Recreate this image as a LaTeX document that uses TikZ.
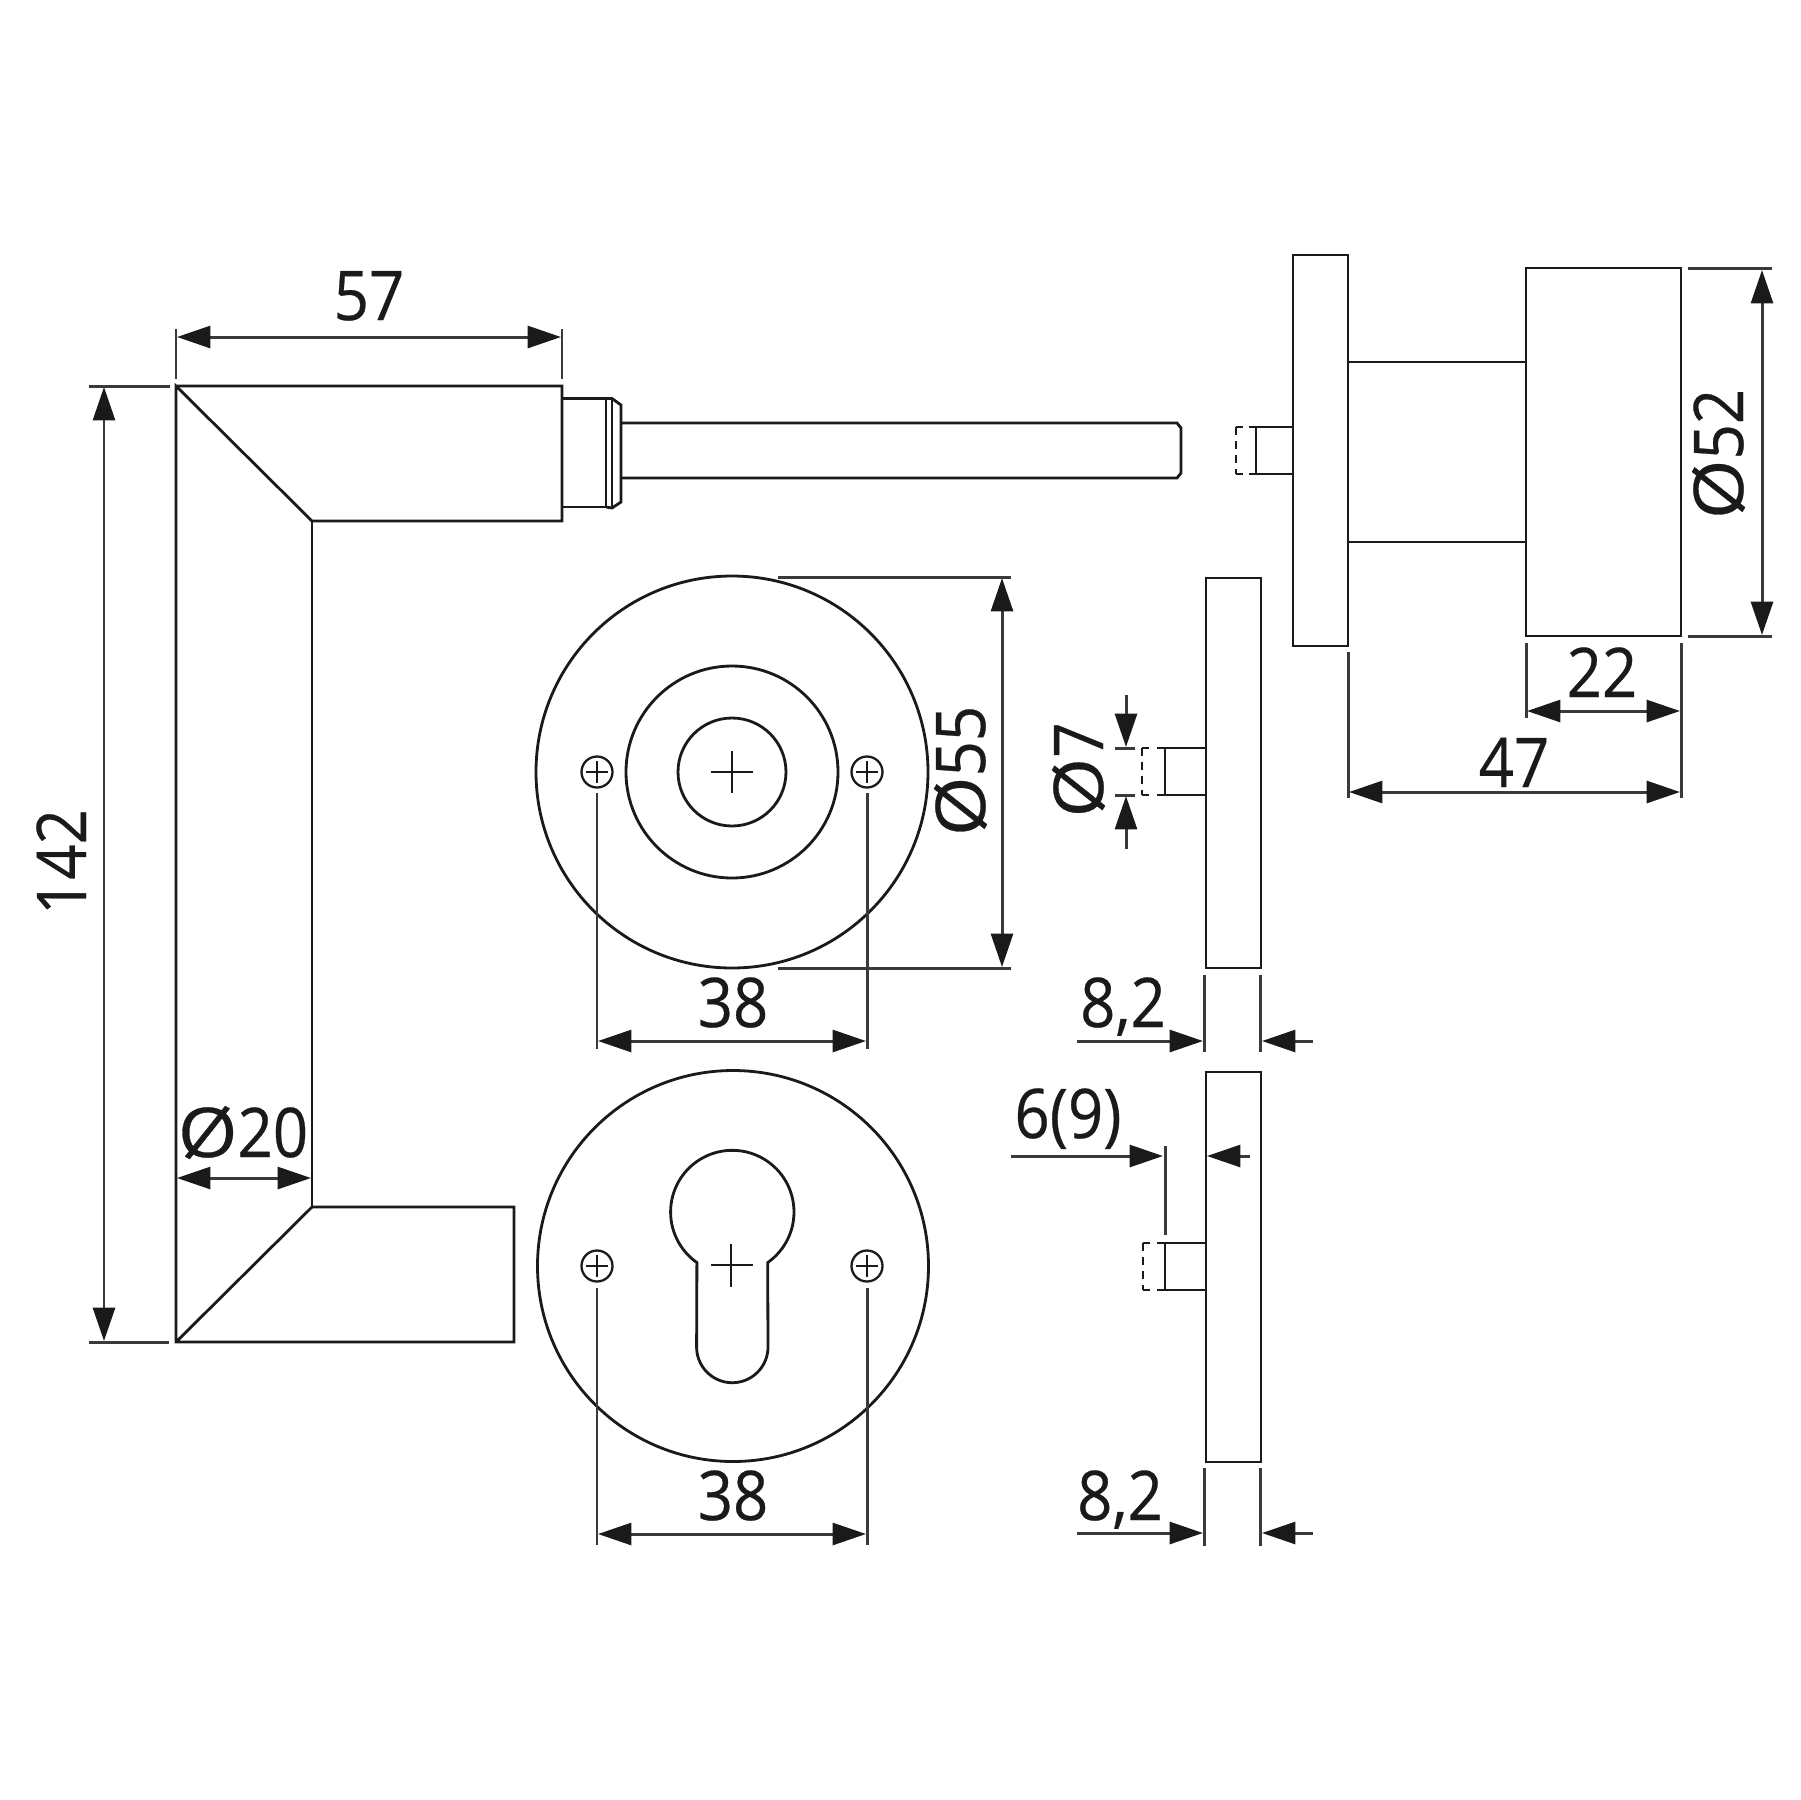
\documentclass[tikz,border=0pt]{standalone}
\usepackage{fontspec}
\setmainfont[FakeStretch=0.9,FakeBold=0.4]{Open Sans}
\newfontfamily\diafont[FakeStretch=1.12,FakeBold=0.4]{Open Sans}
\newcommand{\diam}{{\diafont Ø}}
\usetikzlibrary{arrows.meta}
\definecolor{ink}{HTML}{1A1A1A}
\definecolor{dimc}{HTML}{3A3A3A}
\tikzset{
  obj/.style={draw=ink,line width=1.6pt,line join=miter},
  thin obj/.style={draw=ink,line width=1.3pt},
  dimext/.style={draw=dimc,line width=1.7pt},
  dimline/.style={draw=dimc,line width=1.7pt},
  darrow/.style={dimline,{Triangle[length=19pt,width=12.5pt,fill=ink,color=ink]}-{Triangle[length=19pt,width=12.5pt,fill=ink,color=ink]}},
  rarrow/.style={dimline,-{Triangle[length=19pt,width=12.5pt,fill=ink,color=ink]}},
  lbl/.style={font=\fontsize{39}{39}\selectfont,text=ink,inner sep=0pt,anchor=base},
  vlbl/.style={lbl,rotate=90},
  dashd/.style={draw=ink,line width=1.6pt,dash pattern=on 4.5pt off 3.5pt},
}
\begin{document}
\begin{tikzpicture}[x=0.02cm,y=-0.02cm]
\useasboundingbox (0,0) rectangle (1800,1800);
\fill[white] (0,0) rectangle (1800,1800);
% handle
\path[obj] (176,386) -- (562,386) -- (562,521) -- (312,521) -- (176,386) -- (176,1342) -- (514,1342) -- (514,1207) -- (312,1207) -- (176,1342);
\path[obj] (312,521) -- (312,1207);
% neck and spindle
\path[obj] (562,398.5) -- (606,398.5) -- (606,507) -- (562,507);
\path[obj] (606,398.5) -- (612,398.5) -- (621,405) -- (621,502) -- (612,508) -- (606,507);
\path[obj] (612,398.5) -- (612,508);
\path[obj] (621,423) -- (1177,423) -- (1181,428) -- (1181,473) -- (1177,478) -- (621,478);
% knob side view
\path[obj] (1293,255) rectangle (1348,646);
\path[obj] (1348,362) -- (1526,362);
\path[obj] (1348,542) -- (1526,542);
\path[obj] (1526,268) rectangle (1681,636);
\path[obj] (1293,427) -- (1249,427);
\path[obj] (1293,474) -- (1249,474);
\path[obj] (1256,427) -- (1256,474);
\path[obj] (1243,427) -- (1236,427);
\path[obj] (1243,474) -- (1236,474);
\path[dashd] (1236,427) -- (1236,474);
% rose with round inner
\path[obj] (732,772) circle[radius=196];
\path[obj] (732,772) circle[radius=106];
\path[obj] (732,772) circle[radius=54];
\path[thin obj] (711,772) -- (753,772) (732,751) -- (732,793);
\foreach \sx/\sy in {597/772,867/772,597/1266,867/1266}{
  \path[thin obj] (\sx,\sy) circle[radius=15.5];
  \path[thin obj] (\sx-11,\sy) -- (\sx+11,\sy) (\sx,\sy-11) -- (\sx,\sy+11);
}
% rose with cylinder
\path[obj] (733,1266) circle[radius=195.5];
\path[obj] plot[domain=125:415,samples=80,smooth] ({732.3+61.7*cos(\x)},{1212+61.7*sin(\x)})
  -- (768,1347) -- plot[domain=0:180,samples=40,smooth] ({732.3+35.7*cos(\x)},{1347+35.7*sin(\x)}) -- cycle;
\path[thin obj] (711,1265) -- (753,1265) (731,1243.5) -- (731,1286.5);
% side plate upper
\path[obj] (1206,578) rectangle (1261,968);
\path[obj] (1206,748) -- (1157,748);
\path[obj] (1206,795) -- (1157,795);
\path[obj] (1165,748) -- (1165,795);
\path[obj] (1149,748) -- (1142,748);
\path[obj] (1149,795) -- (1142,795);
\path[dashd] (1142,748) -- (1142,795);
% side plate lower
\path[obj] (1206,1072) rectangle (1261,1462);
\path[obj] (1206,1243) -- (1157,1243);
\path[obj] (1206,1290) -- (1157,1290);
\path[obj] (1165,1243) -- (1165,1290);
\path[obj] (1150,1243) -- (1143,1243);
\path[obj] (1150,1290) -- (1143,1290);
\path[dashd] (1143,1243) -- (1143,1290);
% extension lines
\path[dimext] (176,329) -- (176,379) (562,329) -- (562,379);
\path[dimext] (89,386) -- (170,386) (89,1342) -- (169,1342);
\path[dimext] (778,577) -- (1011,577) (778,968) -- (1011,968);
\path[dimext] (597,793) -- (597,1049) (867,793) -- (867,1049);
\path[dimext] (597,1288) -- (597,1545) (867,1288) -- (867,1545);
\path[dimext] (1688,268) -- (1772,268) (1688,636) -- (1772,636);
\path[dimext] (1526,643) -- (1526,718) (1681,643) -- (1681,798) (1348,652) -- (1348,798);
\path[dimext] (1115,748) -- (1135,748) (1115,795) -- (1135,795);
\path[dimext] (1204,975) -- (1204,1052) (1260,975) -- (1260,1052);
\path[dimext] (1204,1468) -- (1204,1546) (1260,1468) -- (1260,1546);
\path[dimext] (1165,1146) -- (1165,1235);
% dimension arrows
\coordinate (a57l) at (177,337); \coordinate (a57r) at (561,337);
\draw[darrow] (a57l) -- (a57r);
\coordinate (a142t) at (104,387); \coordinate (a142b) at (104,1341);
\draw[darrow] (a142t) -- (a142b);
\coordinate (a20l) at (177,1178); \coordinate (a20r) at (311,1178);
\draw[darrow] (a20l) -- (a20r);
\coordinate (a55t) at (1002,578); \coordinate (a55b) at (1002,967);
\draw[darrow] (a55t) -- (a55b);
\coordinate (a38l) at (598,1041); \coordinate (a38r) at (866,1041);
\draw[darrow] (a38l) -- (a38r);
\coordinate (b38l) at (598,1534); \coordinate (b38r) at (866,1534);
\draw[darrow] (b38l) -- (b38r);
\coordinate (a52t) at (1762,270); \coordinate (a52b) at (1762,635);
\draw[darrow] (a52t) -- (a52b);
\coordinate (a22l) at (1527,711); \coordinate (a22r) at (1680,711);
\draw[darrow] (a22l) -- (a22r);
\coordinate (a47l) at (1349,792); \coordinate (a47r) at (1680,792);
\draw[darrow] (a47l) -- (a47r);
\draw[rarrow] (1126,695) -- (1126,747);
\draw[rarrow] (1126,849) -- (1126,796);
\draw[rarrow] (1077,1041) -- (1203,1041);
\draw[rarrow] (1313,1041) -- (1262,1041);
\draw[rarrow] (1077,1533) -- (1203,1533);
\draw[rarrow] (1313,1533) -- (1262,1533);
\draw[rarrow] (1011,1156) -- (1163,1156);
\draw[rarrow] (1250,1156) -- (1207,1156);
% labels
\node[lbl] (t57) at (369,320) {57};
\node[vlbl] (t142) at (86,862) {142};
\node[lbl] (t20) at (243,1157) {\diam 20};
\node[vlbl] (t55) at (985,771) {\diam 55};
\node[lbl] (t38a) at (733,1027) {38};
\node[lbl] (t38b) at (733,1520) {38};
\node[vlbl] (t52) at (1743,454) {\diam 52};
\node[lbl] (t22) at (1602,697) {22};
\node[lbl] (t47) at (1514,787) {47};
\node[vlbl] (t7) at (1103,770) {\diam 7};
\node[lbl] (t82a) at (1123,1027) {8,2};
\node[lbl] (t82b) at (1120,1520) {8,2};
\node[lbl] (t69) at (1068,1138) {6(9)};
\end{tikzpicture}
\end{document}
